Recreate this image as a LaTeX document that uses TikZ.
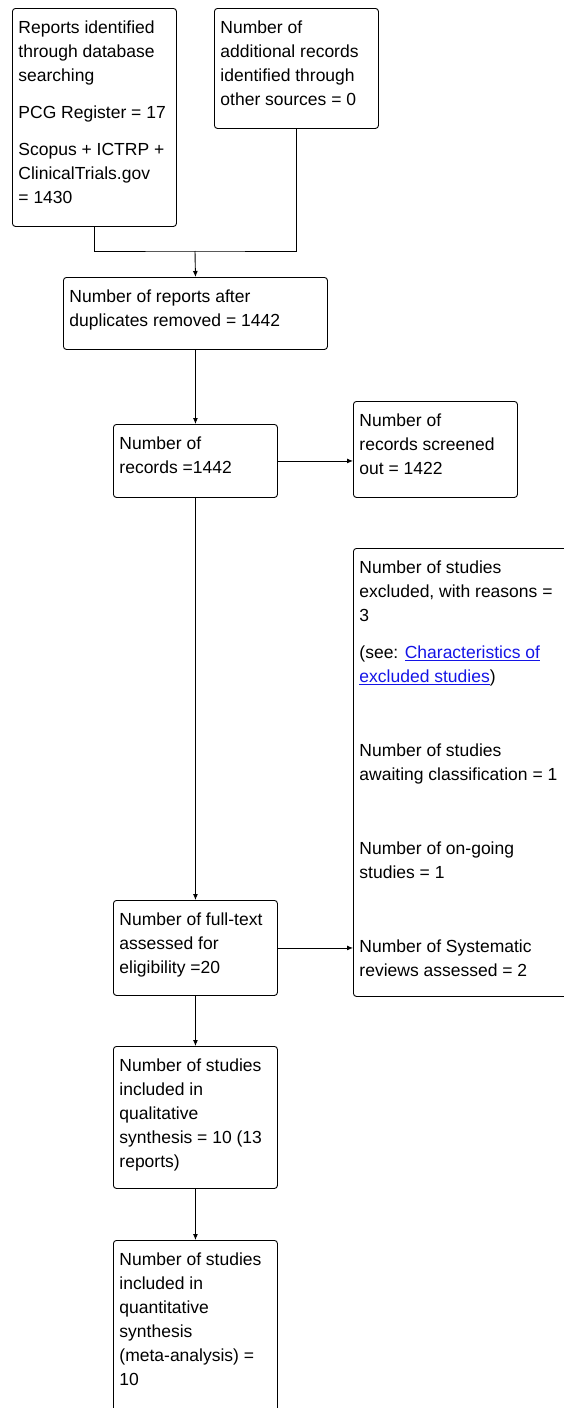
\documentclass[tikz,border=0pt]{standalone}
\usepackage{fontspec}
\setmainfont{Liberation Sans}
\usepackage{xcolor}
\usepackage{tikz}
\usetikzlibrary{arrows.meta}

\definecolor{linkblue}{RGB}{20,20,230}
\newcommand{\flowfont}{\fontsize{17.5}{24}\selectfont}
\newcommand{\cellbox}[3]{\parbox[c][#2][t]{#1}{\raggedright\rule{0pt}{25pt}#3}}
\newcommand{\linktext}[1]{\textcolor{linkblue}{\underline{#1}}}

\begin{document}
\begin{tikzpicture}[
      x=1pt, y=-1pt,
      flowbox/.style={draw, line width=0.9pt, rounded corners=3pt,
        anchor=north west, inner xsep=6pt, inner ysep=0pt, font=\flowfont},
      arr/.style={-{Latex[length=6pt, width=5pt]}, line width=0.9pt}
    ]
    \useasboundingbox (0,0) rectangle (564,1408);

    \node[flowbox] (search) at (12,8) {\cellbox{152pt}{218pt}{Reports identified\\
      through database\\ searching\\[13pt] PCG Register = 17\\[13pt]
      Scopus + ICTRP +\\ ClinicalTrials.gov\\ = 1430}};
    \node[flowbox] (other) at (214,8) {\cellbox{152pt}{120pt}{Number of\\
      additional records\\ identified through\\ other sources = 0}};
    \node[flowbox] (dedup) at (63,277) {\cellbox{252pt}{72pt}{Number of reports after\\
      duplicates removed = 1442}};
    \node[flowbox] (screen) at (113,424) {\cellbox{152pt}{73pt}{Number of\\
      records =1442}};
    \node[flowbox] (screenout) at (353,401) {\cellbox{152pt}{96pt}{Number of\\
      records screened\\ out = 1422}};
    \node[flowbox] (excluded) at (353,548) {\cellbox{215pt}{448pt}{Number of studies\\
      excluded, with reasons =\\ 3\\[13pt]
      (see: \linktext{Characteristics of}\\ \linktext{excluded studies})\\[50pt]
      Number of studies\\ awaiting classification = 1\\[50pt]
      Number of on-going\\ studies = 1\\[50pt]
      Number of Systematic\\ reviews assessed = 2}};
    \node[flowbox] (fulltext) at (113,900) {\cellbox{152pt}{95pt}{Number of full-text\\
      assessed for\\ eligibility =20}};
    \node[flowbox] (qual) at (113,1046) {\cellbox{152pt}{142pt}{Number of studies\\
      included in\\ qualitative\\ synthesis = 10 (13\\ reports)}};
    \node[flowbox] (quant) at (113,1240) {\cellbox{152pt}{178pt}{Number of studies\\
      included in\\ quantitative\\ synthesis\\ (meta-analysis) =\\ 10}};

    \coordinate (merge) at (195,251);

    \draw[line width=0.9pt] (search.south) |- (merge) -| (other.south);
    \draw[arr] (merge) -- (dedup.north);
    \draw[arr] (dedup.south) -- (screen.north);
    \draw[arr] (screen.east) -- (screen.east -| screenout.west);
    \draw[arr] (screen.south) -- (fulltext.north);
    \draw[arr] (fulltext.east) -- (fulltext.east -| excluded.west);
    \draw[arr] (fulltext.south) -- (qual.north);
    \draw[arr] (qual.south) -- (quant.north);
  \end{tikzpicture}
\end{document}
